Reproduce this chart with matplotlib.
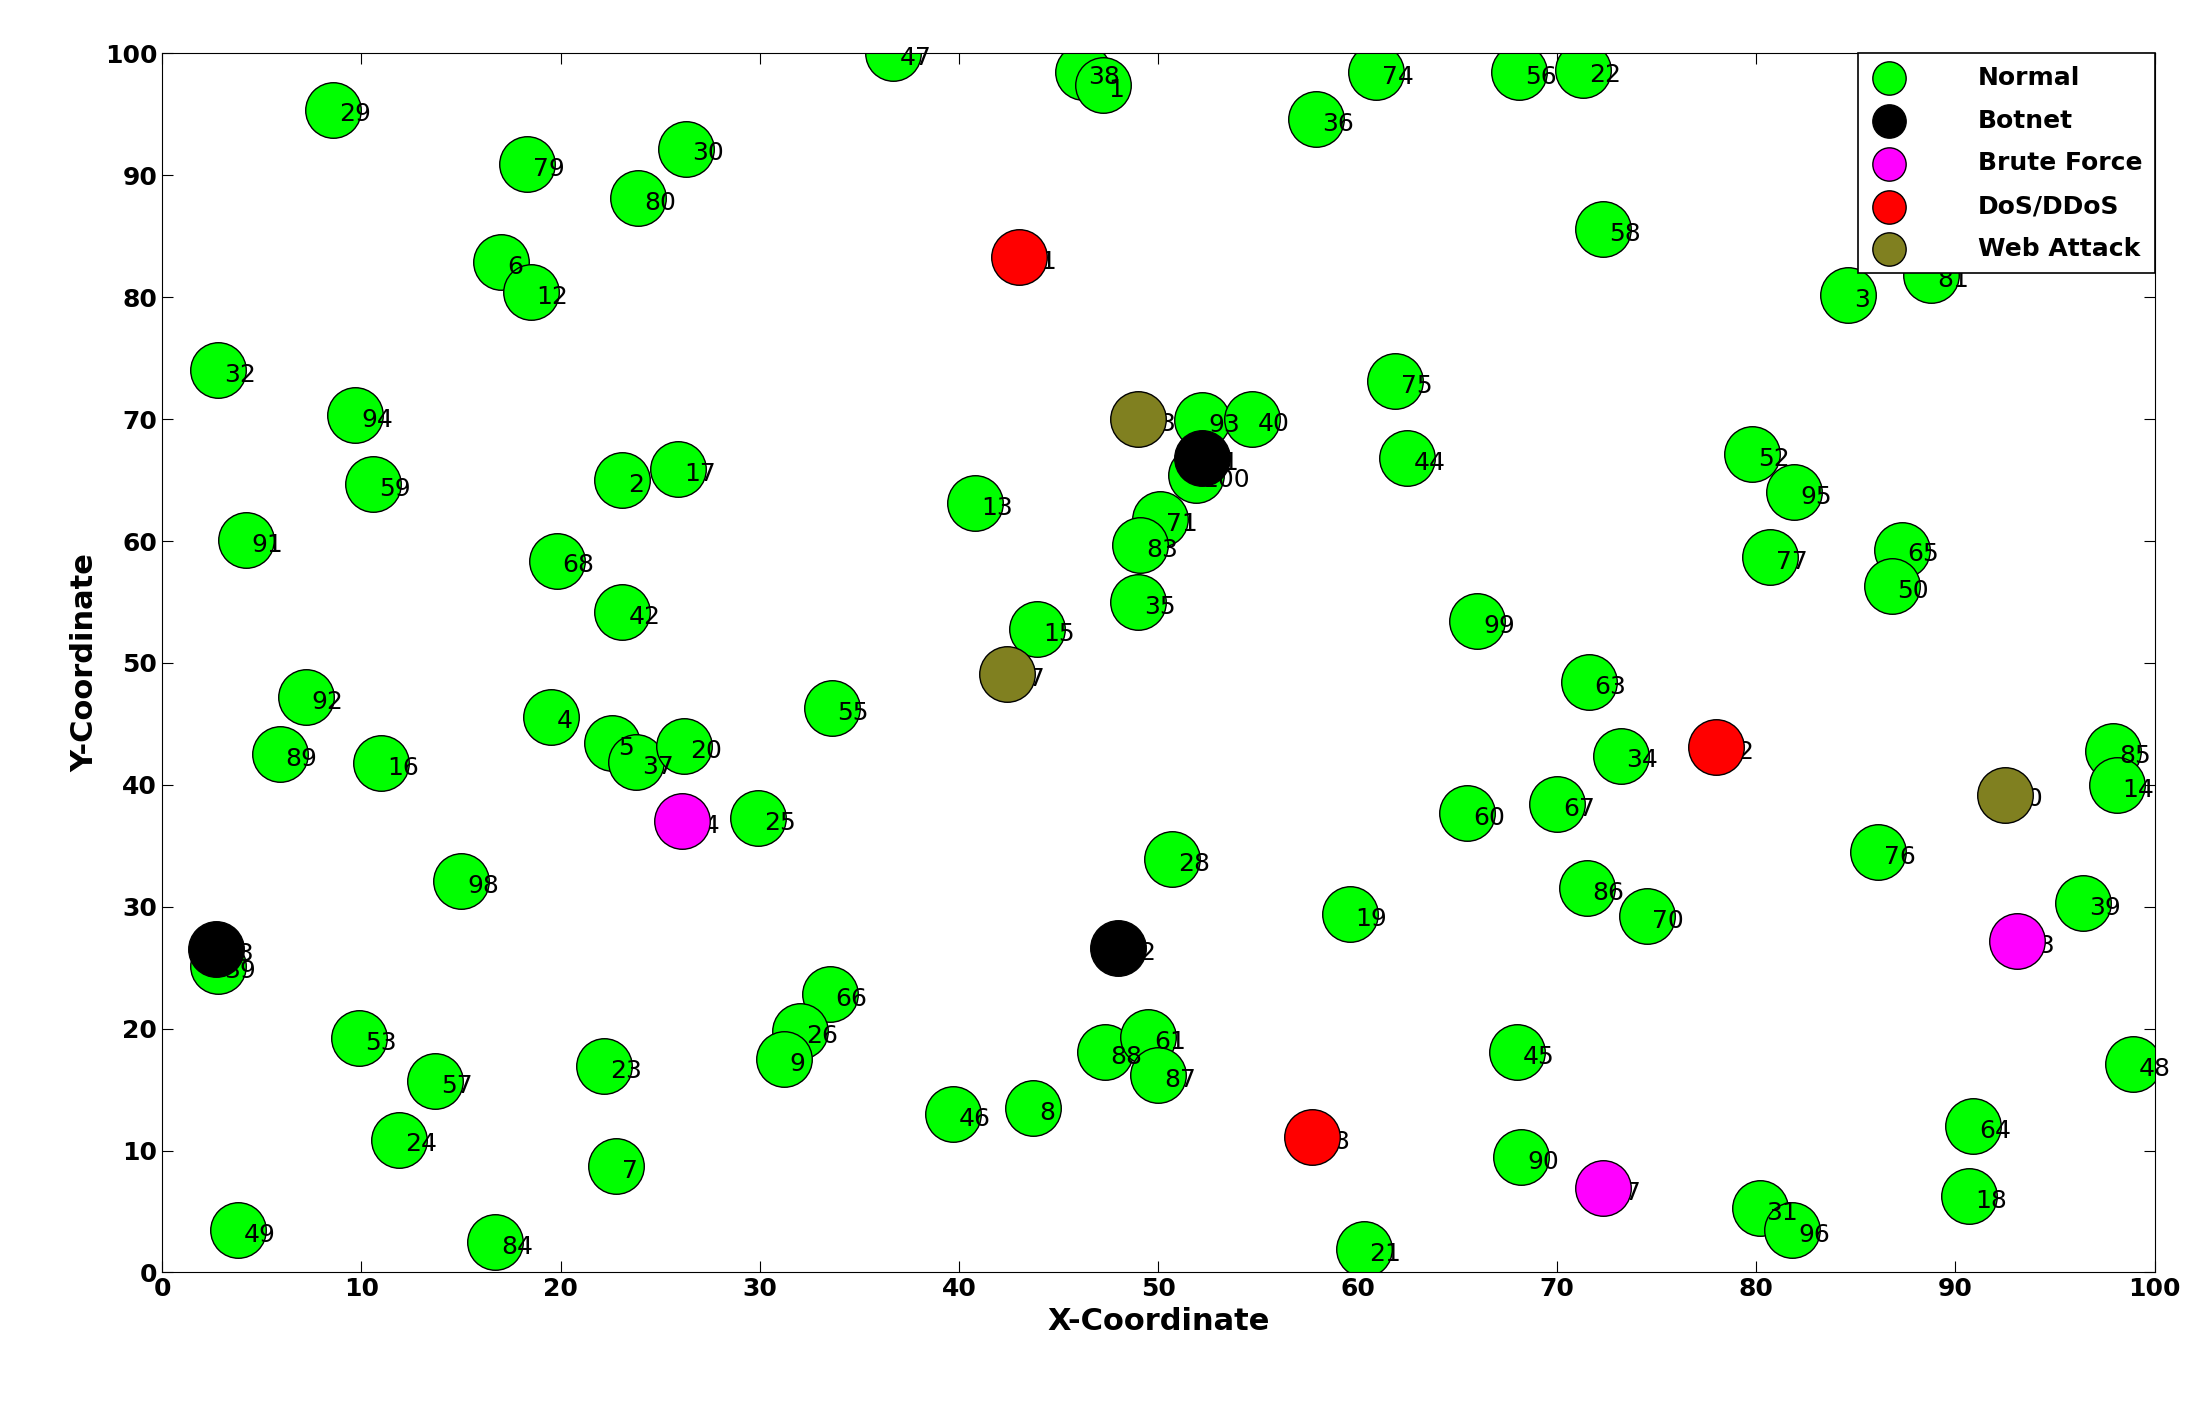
import matplotlib
matplotlib.use("Agg")
import matplotlib.pyplot as plt

normal_x = [8.6,18.3,26.3,23.9,36.7,46.2,47.2,57.9,60.9,68.1,71.3,72.3,84.6,88.8,17.0,18.5,2.8,9.7,10.6,4.2,23.1,25.9,19.8,23.1,7.2,5.9,11.0,19.5,22.6,23.8,26.2,33.6,29.9,15.0,40.8,43.9,50.1,49.1,49.0,52.2,54.7,51.9,61.9,62.5,66.0,79.8,81.9,80.7,87.3,86.8,71.6,73.2,65.5,70.0,86.1,71.5,74.5,97.9,98.1,96.4,98.9,50.7,59.6,68.0,68.2,80.2,81.8,90.9,90.7,60.3,33.5,32.0,31.2,47.3,49.5,50.0,39.7,43.7,9.9,13.7,22.2,11.9,22.8,3.8,16.7,2.8]
normal_y = [95.4,90.9,92.2,88.1,100.0,98.5,97.4,94.6,98.5,98.5,98.6,85.6,80.2,81.8,82.9,80.4,74.0,70.3,64.7,60.1,65.0,65.9,58.4,54.2,47.2,42.5,41.8,45.6,43.4,41.9,43.2,46.3,37.3,32.1,63.1,52.8,61.8,59.7,55.0,69.9,70.0,65.4,73.1,66.8,53.4,67.1,64.0,58.7,59.3,56.3,48.4,42.4,37.7,38.4,34.5,31.5,29.2,42.8,40.0,30.3,17.1,33.9,29.4,18.1,9.5,5.3,3.5,12.0,6.3,1.9,22.8,19.8,17.5,18.1,19.3,16.2,13.0,13.5,19.2,15.7,16.9,10.9,8.7,3.5,2.5,25.1]
normal_lab = ["29","79","30","80","47","38","1","36","74","56","22","58","3","81","6","12","32","94","59","91","2","17","68","42","92","89","16","4","5","37","20","55","25","98","13","15","71","83","35","93","40","100","75","44","99","52","95","77","65","50","63","34","60","67","76","86","70","85","14","39","48","28","19","45","90","31","96","64","18","21","66","26","9","88","61","87","46","8","53","57","23","24","7","49","84","39"]

botnet_x = [2.7,48.0,52.2]; botnet_y = [26.5,26.6,66.8]; botnet_lab = ["33","62","41"]
brute_x = [26.1,93.1,72.3]; brute_y = [37.0,27.2,6.9]; brute_lab = ["54","73","27"]
dos_x = [43.0,78.0,57.7]; dos_y = [83.3,43.1,11.1]; dos_lab = ["11","82","78"]
web_x = [49.0,42.4,92.5]; web_y = [70.0,49.1,39.2]; web_lab = ["43","97","10"]

fig = plt.figure(figsize=(22.11,14.06), dpi=100)
ax = fig.add_axes([0.0733,0.095,0.9012,0.867])
S = 1600
ax.scatter(normal_x, normal_y, s=S, c="#00ff00", edgecolors="black", linewidths=1, label="Normal", zorder=2)
for x,y,l in zip(normal_x, normal_y, normal_lab):
    ax.text(x+0.3, y-0.4, l, fontsize=18, va="center", ha="left", zorder=3)
groups = [(botnet_x,botnet_y,botnet_lab,"black","Botnet"),
          (brute_x,brute_y,brute_lab,"#ff00ff","Brute Force"),
          (dos_x,dos_y,dos_lab,"#ff0000","DoS/DDoS"),
          (web_x,web_y,web_lab,"#808020","Web Attack")]
for gx,gy,gl,c,n in groups:
    for x,y,l in zip(gx,gy,gl):
        ax.text(x+0.3, y-0.4, l, fontsize=18, va="center", ha="left", zorder=3)
    ax.scatter(gx, gy, s=S, c=c, edgecolors="black", linewidths=1, label=n, zorder=4)
ax.set_xlim(0,100); ax.set_ylim(0,100)
ax.set_xticks(range(0,101,10)); ax.set_yticks(range(0,101,10))
ax.tick_params(direction="in", labelsize=18, length=8, top=True, right=True)
for t in ax.get_xticklabels()+ax.get_yticklabels():
    t.set_fontweight("bold")
ax.set_xlabel("X-Coordinate", fontsize=22, fontweight="bold")
ax.set_ylabel("Y-Coordinate", fontsize=22, fontweight="bold")
leg = ax.legend(loc="upper right", fontsize=18, markerscale=0.6, fancybox=False,
                edgecolor="black", framealpha=1, borderaxespad=0.0, handletextpad=2.8,
                labelspacing=0.75, borderpad=0.5, handlelength=1.5)
leg.set_zorder(10)
leg.get_frame().set_linewidth(1.2)
for t in leg.get_texts():
    t.set_fontweight("bold")
fig.savefig("out.png", dpi=100)
